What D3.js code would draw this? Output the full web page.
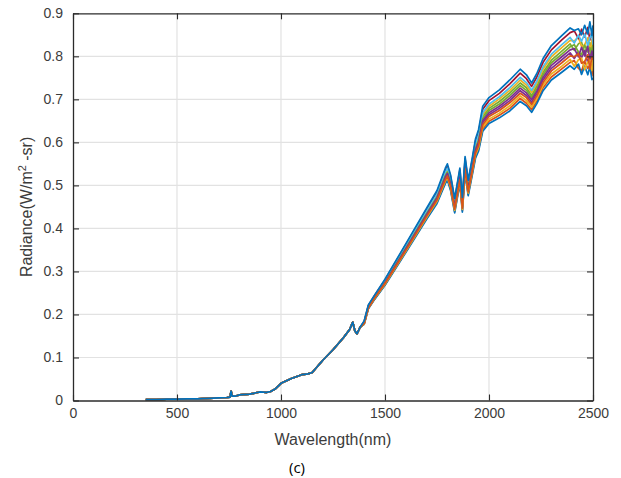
<!DOCTYPE html>
<html>
<head>
<meta charset="utf-8">
<script src="https://cdn.jsdelivr.net/npm/d3@7"></script>
<style>
  body { margin: 0; background: #fff; }
  svg { display: block; }
</style>
</head>
<body>
<svg id="chart" width="621" height="478"></svg>
<script>
// Axis ticks
const xTicks = [0, 500, 1000, 1500, 2000, 2500];
const yTicks = [0, 0.1, 0.2, 0.3, 0.4, 0.5, 0.6, 0.7, 0.8, 0.9];

// Visible / near-infrared part, common to all samples (curves coincide here)
const wavelengthVNIR = [350, 400, 450, 500, 550, 600, 650, 700, 740, 755, 760, 765, 780, 800, 850, 880, 900, 930, 950, 970,
  1000, 1050, 1100, 1130, 1150, 1200, 1250, 1300, 1330, 1345, 1355, 1365, 1380];
const radianceVNIR = [0.002, 0.002, 0.003, 0.003, 0.004, 0.004, 0.005, 0.006, 0.007, 0.008, 0.022, 0.010, 0.010, 0.013, 0.015, 0.018, 0.020, 0.019, 0.021, 0.026,
  0.040, 0.051, 0.060, 0.062, 0.065, 0.093, 0.118, 0.146, 0.165, 0.182, 0.162, 0.155, 0.170];

// Short-wave infrared part, one array per sample
const wavelengthSWIR = [1400, 1420, 1450, 1500, 1600, 1700, 1750, 1790, 1800, 1815, 1835, 1860, 1872, 1885, 1900, 1920, 1935, 1950, 1970, 2000,
  2050, 2100, 2150, 2180, 2205, 2230, 2260, 2300, 2350, 2390, 2410, 2430, 2445, 2460, 2475, 2485, 2495, 2500];

const sample01 = [.185,.222,.245,.282,.364,.447,.488,.540,.550,.525,.470,.540,.472,.567,.512,.565,.608,.630,.684,.704,.722,.745,.770,.757,.738,.760,.795,.825,.848,.866,.860,.864,.850,.872,.852,.880,.848,.872];
const sample02 = [.179,.215,.238,.272,.349,.428,.466,.513,.522,.498,.445,.513,.447,.539,.485,.535,.575,.593,.641,.660,.674,.692,.714,.704,.688,.708,.739,.766,.785,.801,.799,.806,.784,.788,.804,.770,.798,.792];
const sample03 = [.178,.215,.237,.270,.347,.425,.463,.510,.518,.495,.442,.510,.444,.535,.482,.532,.571,.588,.636,.654,.668,.685,.708,.697,.682,.702,.733,.759,.777,.793,.777,.792,.796,.769,.787,.791,.767,.797];
const sample04 = [.180,.217,.239,.274,.352,.432,.471,.519,.528,.504,.450,.519,.452,.545,.491,.542,.582,.601,.650,.669,.684,.703,.726,.715,.699,.719,.751,.779,.799,.815,.818,.799,.821,.801,.823,.792,.812,.788];
const sample05 = [.181,.217,.240,.275,.354,.434,.473,.522,.531,.507,.453,.522,.455,.548,.494,.545,.585,.605,.655,.674,.689,.709,.732,.721,.704,.725,.757,.785,.805,.822,.827,.810,.804,.826,.810,.820,.796,.824];
const sample06 = [.183,.220,.242,.278,.359,.440,.480,.531,.540,.516,.461,.531,.463,.557,.503,.555,.597,.617,.669,.689,.706,.727,.751,.739,.721,.742,.776,.805,.827,.844,.831,.849,.835,.852,.824,.843,.853,.827];
const sample07 = [.184,.221,.244,.280,.362,.444,.484,.536,.545,.521,.466,.536,.468,.562,.508,.560,.603,.624,.677,.697,.714,.736,.761,.748,.730,.752,.786,.815,.838,.855,.859,.841,.863,.845,.867,.838,.858,.834];
const sample08 = [.177,.213,.235,.268,.344,.421,.458,.504,.512,.489,.436,.504,.438,.529,.476,.525,.563,.580,.626,.644,.657,.673,.695,.685,.670,.690,.720,.745,.763,.778,.770,.782,.758,.777,.757,.776,.746,.750];
const sample09 = [.178,.214,.236,.269,.346,.423,.461,.507,.515,.492,.439,.507,.441,.532,.479,.529,.567,.584,.631,.649,.663,.679,.702,.691,.676,.696,.727,.752,.771,.786,.790,.772,.766,.788,.772,.779,.755,.783];
const sample10 = [.182,.219,.242,.277,.357,.438,.478,.528,.537,.513,.459,.528,.461,.554,.500,.552,.593,.613,.665,.684,.701,.721,.745,.733,.716,.737,.770,.799,.820,.837,.836,.844,.822,.827,.843,.811,.839,.833];
const sample11 = [.180,.216,.238,.273,.351,.430,.468,.516,.525,.501,.448,.516,.450,.542,.488,.539,.578,.597,.646,.664,.679,.697,.720,.709,.693,.714,.745,.772,.792,.808,.795,.811,.797,.813,.785,.802,.812,.786];
const sample12 = [.182,.218,.241,.276,.356,.436,.475,.525,.534,.510,.456,.525,.458,.551,.497,.548,.589,.609,.660,.679,.695,.715,.738,.727,.709,.731,.763,.791,.812,.829,.814,.829,.833,.808,.826,.832,.808,.838];

const samplesSWIR = [sample01, sample02, sample03, sample04, sample05, sample06,
  sample07, sample08, sample09, sample10, sample11, sample12];

// MATLAB default line colour order
const lineColors = ["#0072BD", "#D95319", "#EDB120", "#7E2F8E", "#77AC30", "#4DBEEE", "#A2142F"];

// ---- layout ----
const svg = d3.select("#chart");
const plotLeft = 73, plotRight = 593, plotTop = 13.3, plotBottom = 400.5;

const x = d3.scaleLinear().domain([0, 2500]).range([plotLeft, plotRight]);
const y = d3.scaleLinear().domain([0, 0.9]).range([plotBottom, plotTop]);

const axisColor = "#2b2b2b";
const textColor = "#3c3c3c";
const tickFont = "'Liberation Sans', Arial, Helvetica, sans-serif";

// grid
const grid = svg.append("g").attr("stroke", "#e2e2e2").attr("stroke-width", 1.2);
grid.selectAll("line.gx").data(xTicks.slice(1, -1)).join("line")
  .attr("class", "gx")
  .attr("x1", d => x(d)).attr("x2", d => x(d)).attr("y1", plotTop).attr("y2", plotBottom);
grid.selectAll("line.gy").data(yTicks.slice(1, -1)).join("line")
  .attr("class", "gy")
  .attr("y1", d => y(d)).attr("y2", d => y(d)).attr("x1", plotLeft).attr("x2", plotRight);

// spectra
const line = d3.line().x(d => x(d[0])).y(d => y(d[1]));
const series = samplesSWIR.map(s => {
  const pts = wavelengthVNIR.map((w, i) => [w, radianceVNIR[i]]);
  return pts.concat(wavelengthSWIR.map((w, i) => [w, s[i]]));
});
const plot = svg.append("g");
// drawn last-to-first so that the first sample sits on top
series.map((d, i) => ({ d, i })).reverse().forEach(({ d, i }) => {
  plot.append("path")
    .attr("d", line(d))
    .attr("fill", "none")
    .attr("stroke", lineColors[i % lineColors.length])
    .attr("stroke-width", 1.7)
    .attr("stroke-linejoin", "round");
});

// axes (ticks inside, box on)
function styleAxis(g) {
  g.selectAll("path.domain").attr("stroke", axisColor).attr("stroke-width", 1.3);
  g.selectAll(".tick line").attr("stroke", axisColor).attr("stroke-width", 1.1);
  g.selectAll("text").attr("fill", textColor).style("font-family", tickFont).style("font-size", "14px");
}
const fmtY = d => d === 0 ? "0" : d3.format(".1f")(d);

svg.append("g").attr("transform", `translate(0,${plotBottom})`)
  .call(d3.axisBottom(x).tickValues(xTicks).tickSizeInner(-6).tickSizeOuter(0).tickPadding(8).tickFormat(d3.format("d")))
  .call(styleAxis);
svg.append("g").attr("transform", `translate(0,${plotTop})`)
  .call(d3.axisTop(x).tickValues(xTicks).tickSizeInner(-6).tickSizeOuter(0).tickFormat(""))
  .call(styleAxis);
svg.append("g").attr("transform", `translate(${plotLeft},0)`)
  .call(d3.axisLeft(y).tickValues(yTicks).tickSizeInner(-6).tickSizeOuter(0).tickPadding(10).tickFormat(fmtY))
  .call(styleAxis);
svg.append("g").attr("transform", `translate(${plotRight},0)`)
  .call(d3.axisRight(y).tickValues(yTicks).tickSizeInner(-6).tickSizeOuter(0).tickFormat(""))
  .call(styleAxis);

// axis titles
svg.append("text")
  .attr("x", (plotLeft + plotRight) / 2).attr("y", 444.5)
  .attr("text-anchor", "middle")
  .attr("fill", textColor)
  .style("font-family", tickFont).style("font-size", "16px")
  .text("Wavelength(nm)");

const yTitle = svg.append("text")
  .attr("transform", `translate(32,${(plotTop + plotBottom) / 2}) rotate(-90)`)
  .attr("text-anchor", "middle")
  .attr("fill", textColor)
  .style("font-family", tickFont).style("font-size", "16px");
yTitle.append("tspan").text("Radiance(W/m");
yTitle.append("tspan").attr("baseline-shift", "super").style("font-size", "11px").text("2");
yTitle.append("tspan").text(" -sr)");

// panel label
svg.append("text")
  .attr("x", 297).attr("y", 473)
  .attr("text-anchor", "middle")
  .attr("fill", "#000")
  .style("font-family", "'Open Sans', 'Noto Sans', sans-serif").style("font-size", "15px")
  .text("(c)");
</script>
</body>
</html>
